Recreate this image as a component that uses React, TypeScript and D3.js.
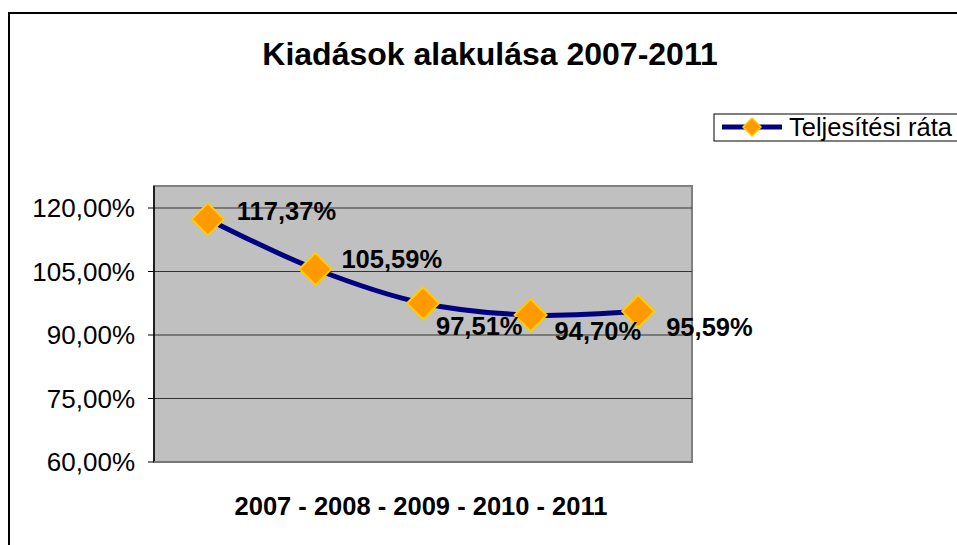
import React from "react";
import * as d3 from "d3";

const title = "Kiadások alakulása 2007-2011";
const categories = ["2007", "2008", "2009", "2010", "2011"];
const values = [117.37, 105.59, 97.51, 94.7, 95.59];
const yTicks = [60, 75, 90, 105, 120];
const seriesName = "Teljesítési ráta";
const xAxisTitle = "2007 - 2008 - 2009 - 2010 - 2011";

const fmt = (v: number) => v.toFixed(2).replace(".", ",") + "%";

// label offsets (style): dx from point, dy for baseline
const labelOffsets = [
  { dx: 29, dy: 1 },
  { dx: 26, dy: -1 },
  { dx: 13, dy: 32 },
  { dx: 24, dy: 25 },
  { dx: 28, dy: 25 },
];

export default function App() {
  const W = 957, H = 545;
  const left = 154, right = 692, top = 186, bottom = 462;
  const x = d3.scaleBand().domain(categories).range([left, right]);
  const y = d3.scaleLinear().domain([60, 125.2]).range([bottom, top]);
  const line = d3
    .line<number>()
    .x((_, i) => x(categories[i])! + x.bandwidth() / 2)
    .y((d) => y(d))
    .curve(d3.curveCatmullRom.alpha(0.5));
  const font = "'Liberation Sans', Arial, sans-serif";
  const diamond = (cx: number, cy: number, r: number) =>
    `M${cx},${cy - r}L${cx + r},${cy}L${cx},${cy + r}L${cx - r},${cy}Z`;

  return (
    <svg
      width={W}
      height={H}
      style={{ position: "absolute", left: 0, top: 0 }}
      fontFamily={font}
    >
      <rect x={0} y={0} width={W} height={H} fill="#fff" />
      <rect x={9} y={13} width={W + 20} height={H + 20} fill="none" stroke="#000" strokeWidth={2} />
      <text x={490} y={65} textAnchor="middle" fontSize={32} fontWeight="bold">
        {title}
      </text>
      {/* legend */}
      <rect x={714} y={114} width={260} height={27} fill="#fff" stroke="#000" strokeWidth={1} />
      <line x1={722} x2={782} y1={127} y2={127} stroke="#000080" strokeWidth={5} />
      <path d={diamond(752, 127, 9)} fill="#FF9900" stroke="#FFCC00" strokeWidth={1.5} />
      <text x={789} y={136} fontSize={25.5}>{seriesName}</text>
      {/* plot area */}
      <rect x={left} y={top} width={right - left} height={bottom - top} fill="#C0C0C0" stroke="#808080" strokeWidth={2} />
      {yTicks.map((t) => (
        <g key={t}>
          <line x1={left} x2={right} y1={y(t)} y2={y(t)} stroke="#333" strokeWidth={1} />
          <line x1={left - 6} x2={left} y1={y(t)} y2={y(t)} stroke="#000" strokeWidth={1} />
          <text x={135} y={y(t) + 9} textAnchor="end" fontSize={26}>
            {fmt(t)}
          </text>
        </g>
      ))}
      <line x1={left} x2={left} y1={top} y2={bottom} stroke="#000" strokeWidth={1.5} />
      <line x1={left} x2={right} y1={bottom} y2={bottom} stroke="#808080" strokeWidth={1.5} />
      <path d={line(values) || ""} fill="none" stroke="#000080" strokeWidth={5} />
      {values.map((v, i) => {
        const cx = x(categories[i])! + x.bandwidth() / 2;
        const cy = y(v);
        return (
          <path key={i} d={diamond(cx, cy, 16)} fill="#FF9900" stroke="#FFCC00" strokeWidth={2} />
        );
      })}
      {values.map((v, i) => {
        const cx = x(categories[i])! + x.bandwidth() / 2;
        const cy = y(v);
        return (
          <text key={i} x={cx + labelOffsets[i].dx} y={cy + labelOffsets[i].dy} fontSize={25.5} fontWeight="bold">
            {fmt(v)}
          </text>
        );
      })}
      <text x={421} y={515} textAnchor="middle" fontSize={25.5} fontWeight="bold">
        {xAxisTitle}
      </text>
    </svg>
  );
}
